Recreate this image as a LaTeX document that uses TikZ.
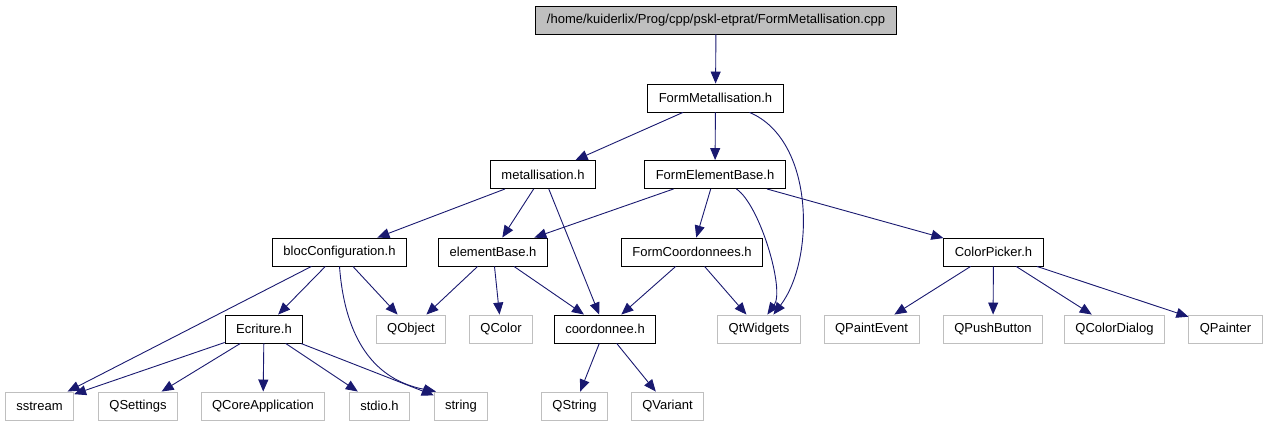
\documentclass[tikz,border=0pt]{standalone}
\usepackage{fontspec}
\setmainfont{Liberation Sans}
\usetikzlibrary{arrows.meta}
\definecolor{edge}{RGB}{25,25,112}
\definecolor{extgray}{RGB}{191,191,191}

\begin{document}
\begin{tikzpicture}[x=1pt, y=-1pt, font=\fontsize{13}{15}\selectfont,
    file/.style={draw=black, line width=0.9pt, inner xsep=11pt, inner ysep=0pt, minimum height=28pt},
    ext/.style={file, draw=extgray},
    dep/.style={-{Triangle[length=12pt,width=10pt]}, draw=edge, line width=0.9pt}]
  \useasboundingbox (0,0) rectangle (1267,427);

  % Source file
  \node[file, fill=extgray] (root) at (716,20) {/home/kuiderlix/Prog/cpp/pskl-etprat/FormMetallisation.cpp};

  % Project headers
  \node[file] (fm) at (715.5,98) {FormMetallisation.h};
  \node[file] (met) at (543,174.5) {metallisation.h};
  \node[file] (feb) at (715,174.5) {FormElementBase.h};
  \node[file] (bloc) at (339.5,252) {blocConfiguration.h};
  \node[file] (eb) at (493,252) {elementBase.h};
  \node[file] (fc) at (692,252) {FormCoordonnees.h};
  \node[file] (cp) at (993.5,252) {ColorPicker.h};
  \node[file] (ecr) at (264,329) {Ecriture.h};
  \node[file] (coo) at (605,329) {coordonnee.h};

  % System and Qt headers
  \node[ext] (qobj) at (411,329) {QObject};
  \node[ext] (qcol) at (501,329) {QColor};
  \node[ext] (qtw) at (759,329) {QtWidgets};
  \node[ext] (qpe) at (871.5,329) {QPaintEvent};
  \node[ext] (qpb) at (993,329) {QPushButton};
  \node[ext] (qcd) at (1114.5,329) {QColorDialog};
  \node[ext] (qp) at (1225.5,329) {QPainter};
  \node[ext] (sst) at (39.5,406) {sstream};
  \node[ext] (qset) at (138,406) {QSettings};
  \node[ext] (qca) at (263,406) {QCoreApplication};
  \node[ext] (stdio) at (379.5,406) {stdio.h};
  \node[ext] (str) at (461,406) {string};
  \node[ext] (qstr) at (574.5,406) {QString};
  \node[ext] (qvar) at (667.5,406) {QVariant};

  % Includes
  \draw[dep] (root) -- (fm);
  \draw[dep] (fm) -- (met);
  \draw[dep] (fm) -- (feb);
  \draw[dep] (fm.-23) .. controls (815,140) and (815,260) .. (qtw.45);
  \draw[dep] (met) -- (bloc);
  \draw[dep] (met) -- (eb);
  \draw[dep] (met) -- (coo);
  \draw[dep] (feb) -- (eb);
  \draw[dep] (feb) -- (fc);
  \draw[dep] (feb.-34) .. controls (760,205) and (785,290) .. (qtw.60);
  \draw[dep] (feb) -- (cp);
  \draw[dep] (bloc) -- (ecr);
  \draw[dep] (bloc) -- (qobj);
  \draw[dep] (bloc) -- (sst);
  \draw[dep] (bloc.south) .. controls (345,340) and (375,380) .. (str.150);
  \draw[dep] (eb) -- (qobj);
  \draw[dep] (eb) -- (qcol);
  \draw[dep] (eb) -- (coo);
  \draw[dep] (fc) -- (coo);
  \draw[dep] (fc) -- (qtw);
  \draw[dep] (cp) -- (qpe);
  \draw[dep] (cp) -- (qpb);
  \draw[dep] (cp) -- (qcd);
  \draw[dep] (cp) -- (qp);
  \draw[dep] (ecr) -- (sst);
  \draw[dep] (ecr) -- (qset);
  \draw[dep] (ecr) -- (qca);
  \draw[dep] (ecr) -- (stdio);
  \draw[dep] (ecr) -- (str);
  \draw[dep] (coo) -- (qstr);
  \draw[dep] (coo) -- (qvar);
\end{tikzpicture}
\end{document}
